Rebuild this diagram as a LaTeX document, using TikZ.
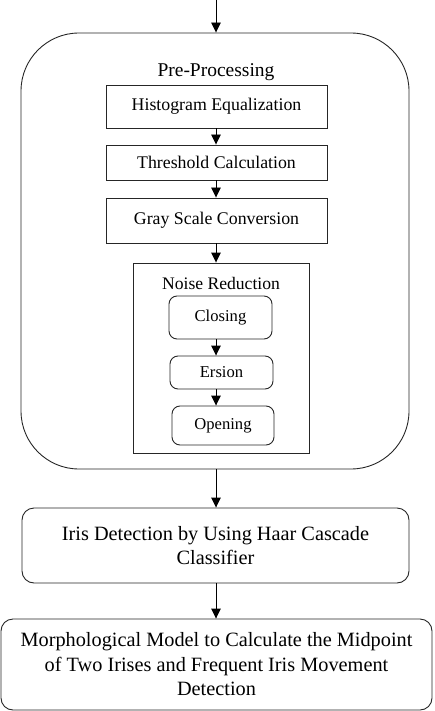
\documentclass[tikz,border=0pt]{standalone}
\usepackage{fontspec}
\setmainfont{Liberation Serif}
\usetikzlibrary{arrows.meta}
\begin{document}
\begin{tikzpicture}[x=1pt,y=-1pt,
  line width=0.9pt,
  box/.style={draw=black!85, minimum width=#1, inner sep=0pt, align=center, font=\fontsize{17.8}{20}\selectfont},
  rbox/.style={draw=black!85, rounded corners=8pt, minimum width=#1, inner sep=0pt, align=center, font=\fontsize{16.6}{19}\selectfont},
  bigbox/.style={draw=black!85, rounded corners=12pt, minimum width=#1, inner sep=0pt, align=center, font=\fontsize{20.3}{24.5}\selectfont},
  arr/.style={draw=black, line width=0.9pt, -{Triangle[width=9.5pt,length=10pt]}}
]
\useasboundingbox (0,0) rectangle (434,711);
\coordinate (start) at (216,0);
\node[draw=black!85, rounded corners=58pt, minimum width=388pt, minimum height=436pt, inner sep=0pt] (pre) at (215,251) {};
\node[font=\fontsize{19.5}{22}\selectfont, inner sep=0pt] (prelbl) at (216,72) {Pre-Processing};
\node[box=221pt, minimum height=43pt] (hist) at (216.5,106.5) {Histogram Equalization};
\node[box=221pt, minimum height=35pt] (thr) at (216.5,162.5) {Threshold Calculation};
\node[box=221pt, minimum height=45pt] (gray) at (216.5,220.5) {Gray Scale Conversion};
\node[draw=black!85, minimum width=176pt, minimum height=190pt, inner sep=0pt] (noise) at (221,358) {};
\node[font=\fontsize{17.6}{20}\selectfont, inner sep=0pt] (noiselbl) at (221,283) {Noise Reduction};
\node[rbox=103pt, minimum height=43pt] (clos) at (220.5,317.5) {Closing};
\node[rbox=103pt, minimum height=33pt] (ers) at (221.5,372.5) {Ersion};
\node[rbox=102pt, minimum height=39pt] (open) at (223,425.5) {Opening};
\node[bigbox=387pt, minimum height=75pt] (iris) at (215.5,545.5) {Iris Detection by Using Haar Cascade\\Classifier};
\node[bigbox=431pt, minimum height=91pt] (morph) at (216.5,664.5) {Morphological Model to Calculate the Midpoint\\of Two Irises and Frequent Iris Movement\\Detection};
\draw[arr] (start) -- (start |- pre.north);
\draw[arr] (216,0 |- hist.south) -- (216,0 |- thr.north);
\draw[arr] (216,0 |- thr.south) -- (216,0 |- gray.north);
\draw[arr] (216,0 |- gray.south) -- (216,0 |- noise.north);
\draw[arr] (216,0 |- clos.south) -- (216,0 |- ers.north);
\draw[arr] (216,0 |- ers.south) -- (216,0 |- open.north);
\draw[arr] (216,0 |- pre.south) -- (216,0 |- iris.north);
\draw[arr] (216,0 |- iris.south) -- (216,0 |- morph.north);
\end{tikzpicture}
\end{document}
